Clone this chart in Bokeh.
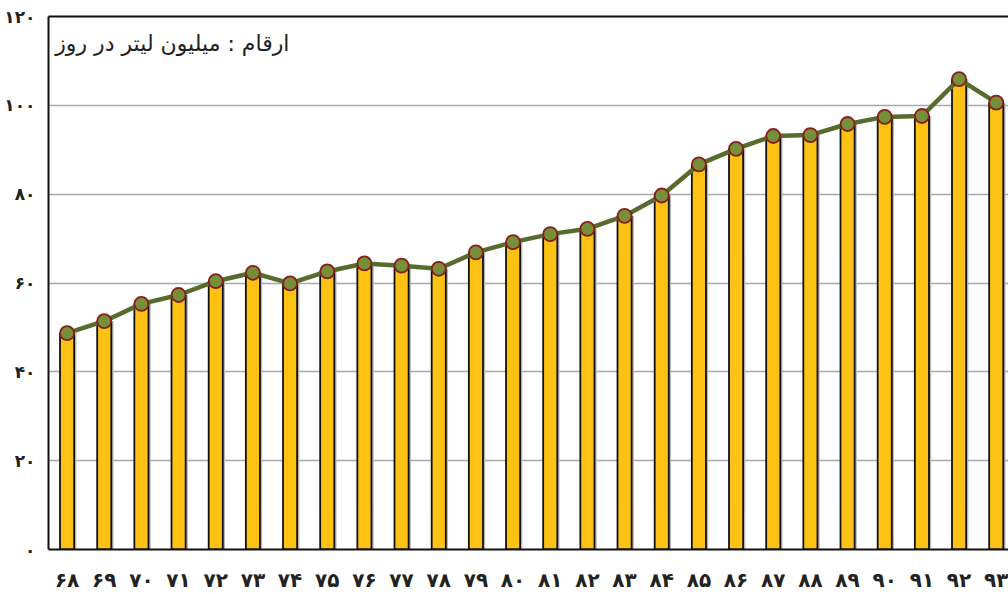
from bokeh.plotting import figure
from bokeh.models import ColumnDataSource, Range1d, LinearAxis, FixedTicker, Label
from bokeh.transform import dodge
from bokeh.embed import file_html
from bokeh.resources import INLINE

# ---- data ----
years = ["۶۸", "۶۹", "۷۰", "۷۱", "۷۲", "۷۳", "۷۴", "۷۵", "۷۶", "۷۷", "۷۸", "۷۹", "۸۰",
         "۸۱", "۸۲", "۸۳", "۸۴", "۸۵", "۸۶", "۸۷", "۸۸", "۸۹", "۹۰", "۹۱", "۹۲", "۹۳"]
values = [48.7, 51.4, 55.3, 57.3, 60.4, 62.3, 59.9, 62.6, 64.4, 63.9, 63.2, 66.9, 69.2,
          71.0, 72.2, 75.1, 79.7, 86.7, 90.2, 93.1, 93.3, 95.8, 97.4, 97.6, 105.9, 100.6]
y_tick_values = [0, 20, 40, 60, 80, 100, 120]
y_tick_labels = ["۰", "۲۰", "۴۰", "۶۰", "۸۰", "۱۰۰", "۱۲۰"]
title_text = "ارقام : میلیون لیتر در روز"

idx = list(range(len(years)))
src = ColumnDataSource(dict(x=idx, y=values, label=years))

FONT = "DejaVu Sans"

p = figure(width=1008, height=594, output_backend="svg", toolbar_location=None,
           x_range=Range1d(-0.5, 25.33), y_range=Range1d(0, 120),
           min_border_left=48, min_border_top=16, min_border_bottom=45, min_border_right=0)
p.outline_line_color = None
p.background_fill_color = "white"
p.border_fill_color = "white"

# grid
p.xgrid.grid_line_color = None
p.ygrid.grid_line_color = "#a8a8a8"
p.ygrid.grid_line_width = 1.5
p.ygrid.ticker = FixedTicker(ticks=y_tick_values)

# shadow behind bars
p.vbar(x=dodge("x", 0.06, range=p.x_range), top="y", width=0.38, source=src,
       fill_color="#b8b8b8", line_color=None)
# bars
p.vbar(x="x", top="y", width=0.38, source=src,
       fill_color="#fdc213", line_color="#111111", line_width=1.8)
# line + markers
p.line(x="x", y="y", source=src, line_color="#566b2c", line_width=4.5)
p.scatter(x="x", y="y", source=src, size=14, fill_color="#76903a",
          line_color="#8a1c1c", line_width=1.8)

# axes
xa = p.xaxis[0]
xa.ticker = FixedTicker(ticks=idx)
xa.major_label_overrides = {i: lab for i, lab in zip(idx, years)}
xa.major_label_text_font = FONT
xa.major_label_text_font_size = "20px"
xa.major_label_text_font_style = "bold"
xa.major_label_text_color = "#222222"
xa.major_label_standoff = 18
xa.major_tick_out = 0
xa.major_tick_in = 0
xa.axis_line_color = "#111111"
xa.axis_line_width = 2
xa.major_tick_line_color = None
xa.minor_tick_line_color = None

ya = p.yaxis[0]
ya.ticker = FixedTicker(ticks=y_tick_values)
ya.major_label_overrides = {v: lab for v, lab in zip(y_tick_values, y_tick_labels)}
ya.major_label_text_font = FONT
ya.major_label_text_font_size = "17px"
ya.major_label_text_font_style = "bold"
ya.major_label_text_color = "#222222"
ya.major_label_standoff = 13
ya.major_tick_out = 0
ya.major_tick_in = 0
ya.axis_line_color = "#111111"
ya.axis_line_width = 2
ya.major_tick_line_color = None
ya.minor_tick_line_color = None

top = LinearAxis(ticker=FixedTicker(ticks=[]), major_label_text_font_size="0px",
                 axis_line_color="#111111", axis_line_width=2, major_tick_out=0,
                 major_tick_line_color=None, minor_tick_line_color=None)
p.add_layout(top, "above")

p.add_layout(Label(x=-0.32, y=114.0, text=title_text, text_font=FONT,
                   text_font_size="22px", text_color="#222222",
                   text_align="left", text_baseline="middle"))

open("out.html", "w").write(file_html(p, INLINE))
